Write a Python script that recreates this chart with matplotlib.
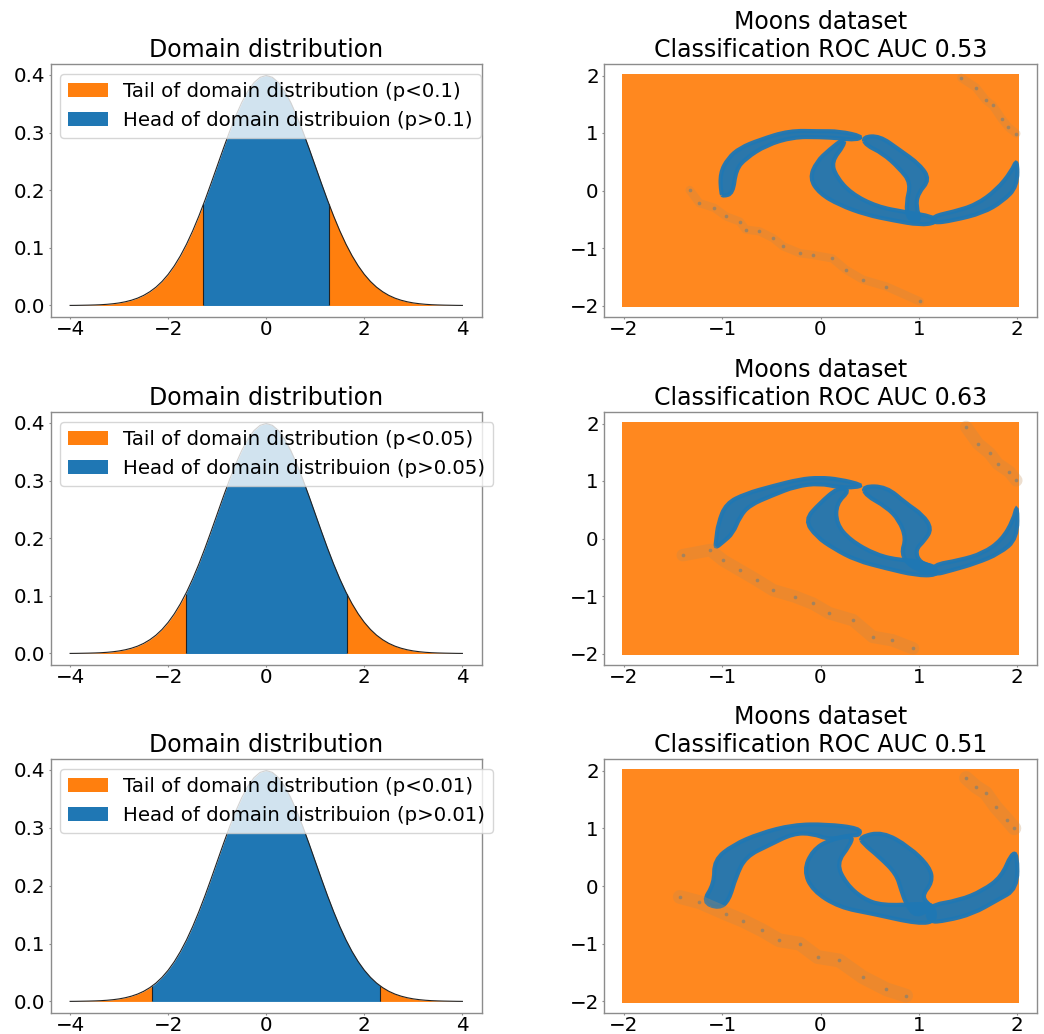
import numpy as np
import matplotlib
matplotlib.use("Agg")
import matplotlib.pyplot as plt
from matplotlib.path import Path
from matplotlib.patches import PathPatch

W, H = 1044, 1034

# Standard-normal-looking curve (positive half, mirrored)
pdf_x_half = [0, .125, .25, .375, .5, .625, .75, .875, 1, 1.125, 1.25, 1.375, 1.5, 1.625, 1.75, 1.875,
              2, 2.125, 2.25, 2.375, 2.5, 2.625, 2.75, 2.875, 3, 3.125, 3.25, 3.375, 3.5, 3.625, 3.75, 3.875, 4]
pdf_y_half = [.3989, .3958, .3867, .3719, .3521, .3282, .3011, .2721, .2420, .2119, .1826, .1550, .1295, .1065,
              .0863, .0688, .0540, .0417, .0317, .0238, .0175, .0127, .0091, .0064, .0044, .0030, .0020, .0013,
              .0009, .0006, .0004, .0002, .0001]

p_labels = ["0.1", "0.05", "0.01"]
cut_x = [1.28, 1.64, 2.33]
cut_y = [.1755, .1031, .0264]
auc_labels = ["0.53", "0.63", "0.51"]

# Extent of the orange class in the right panels
orange_x = [-2.02, 2.02]
orange_y = [-2.02, 2.02]

# Blue class regions per panel: (x, y) outlines
arc_top = [
    [(-1.01, -.05), (-1.02, .30), (-.94, .56), (-.82, .74), (-.62, .88), (-.32, 1.04), (-.01, 1.03), (.19, 1.03), (.43, .94),
     (.36, .88), (.19, .91), (-.01, .93), (-.28, .93), (-.55, .79), (-.76, .56), (-.86, .36), (-.89, -.05), (-.99, -.10)],
    [(-1.06, -.03), (-1.04, .26), (-.96, .61), (-.76, .78), (-.49, .91), (-.21, 1.03), (-.01, 1.06), (.19, 1.03), (.43, .93),
     (.36, .89), (.19, .89), (-.01, .96), (-.25, .91), (-.49, .75), (-.72, .58), (-.82, .38), (-.89, .09), (-.99, -.06), (-1.07, -.17)],
    [(-1.20, -.28), (-1.08, .04), (-1.08, .45), (-.89, .71), (-.62, .91), (-.28, 1.06), (.06, 1.07), (.40, 1.0),
     (.40, .88), (.30, .88), (.09, .80), (-.08, .91), (-.28, .91), (-.52, .71), (-.76, .51), (-.86, .16), (-.93, -.25), (-1.03, -.39)],
]
ring_left = [
    [(.24, .91), (.09, .71), (-.04, .50), (-.11, .21), (-.01, -.05), (.19, -.25), (.46, -.42), (.74, -.52), (1.01, -.60), (1.18, -.56),
     (1.14, -.45), (.87, -.38), (.57, -.28), (.31, -.05), (.16, .24), (.11, .50), (.24, .79)],
    [(.18, .89), (-.01, .61), (-.16, .32), (-.04, .03), (.13, -.17), (.36, -.38), (.67, -.52), (.97, -.64), (1.18, -.64),
     (1.18, -.52), (.97, -.38), (.82, -.38), (.57, -.29), (.30, -.03), (.16, .26), (.16, .61), (.30, .84)],
    [(.09, .80), (-.08, .62), (-.17, .27), (-.08, -.08), (.19, -.37), (.53, -.48), (1.0, -.66), (1.18, -.60),
     (1.14, -.31), (1.01, -.31), (.63, -.34), (.43, -.22), (.26, .04), (.16, .39), (.30, .71), (.33, .88)],
]
ring_right = [
    [(.43, .93), (.60, .95), (.80, .71), (1.01, .45), (1.11, .19), (.99, -.05), (.97, -.28), (1.02, -.54),
     (.89, -.51), (.87, -.22), (.92, .13), (.80, .39), (.63, .65), (.46, .79)],
    [(.43, .91), (.67, .90), (.87, .61), (1.04, .41), (1.13, .17), (1.06, -.03), (.96, -.20), (1.01, -.43), (1.18, -.49),
     (1.14, -.64), (.91, -.49), (.82, -.26), (.87, 0), (.80, .32), (.67, .55), (.46, .75)],
    [(.40, .85), (.63, .94), (.90, .68), (1.11, .33), (1.14, .07), (1.02, -.19), (1.14, -.37), (.97, -.54),
     (.87, -.31), (.82, -.07), (.77, .21), (.60, .50), (.43, .74)],
]
arc_right = [
    [(1.14, -.45), (1.35, -.37), (1.58, -.25), (1.79, .01), (1.94, .33), (2.0, .56), (2.0, .07), (1.85, -.19), (1.65, -.39), (1.35, -.52), (1.14, -.57)],
    [(1.14, -.46), (1.41, -.38), (1.65, -.26), (1.84, -.03), (1.96, .32), (2.0, .61), (2.0, 0), (1.82, -.26), (1.58, -.43), (1.34, -.55), (1.14, -.64)],
    [(1.09, -.34), (1.41, -.25), (1.65, -.08), (1.84, .16), (1.94, .56), (2.0, .56), (2.0, -.05), (1.79, -.25), (1.55, -.48), (1.28, -.60), (1.09, -.63)],
]
# Faint blue traces at the two moon ends
tail_low = [
    [(-1.33, .01), (-1.23, -.22), (-1.08, -.30), (-.96, -.45), (-.82, -.54), (-.76, -.68), (-.62, -.71),
     (-.48, -.83), (-.38, -.97), (-.21, -1.09), (-.08, -1.12), (.12, -1.18), (.26, -1.38), (.43, -1.55), (.67, -1.67), (1.01, -1.93)],
    [(-1.40, -.29), (-1.12, -.20), (-.99, -.38), (-.82, -.55), (-.65, -.72), (-.48, -.90), (-.26, -1.01),
     (-.08, -1.13), (.09, -1.30), (.33, -1.42), (.53, -1.71), (.73, -1.77), (.94, -1.91)],
    [(-1.43, -.19), (-1.23, -.28), (-.96, -.48), (-.79, -.60), (-.59, -.77), (-.42, -.94), (-.21, -1.0),
     (-.03, -1.23), (.19, -1.29), (.43, -1.58), (.67, -1.79), (.87, -1.90)],
]
tail_high = [
    [(1.43, 1.96), (1.58, 1.79), (1.68, 1.57), (1.75, 1.48), (1.84, 1.25), (1.91, 1.10), (1.99, .99)],
    [(1.48, 1.94), (1.60, 1.65), (1.72, 1.48), (1.80, 1.30), (1.92, 1.16), (1.99, 1.01)],
    [(1.48, 1.87), (1.58, 1.72), (1.68, 1.61), (1.78, 1.37), (1.90, 1.14), (1.97, 1.0)],
]
tail_width = [6, 9, 10]

ORANGE, BLUE, GREY = "#ff7f0e", "#1f77b4", "#8c8c8c"
FS = 14.3
FS_LEG = 14.2
FS_TITLE = 17
rows_px = [(64, 317), (412, 665), (759, 1013)]
left_px, right_px = (50.5, 482), (604, 1037)


def make_axes(xr, yr):
    ax = fig.add_axes([xr[0] / W, 1 - yr[1] / H, (xr[1] - xr[0]) / W, (yr[1] - yr[0]) / H])
    for s in ax.spines.values():
        s.set_color(GREY)
        s.set_linewidth(1.0)
    ax.tick_params(labelsize=FS, color=GREY, length=1.5, width=0.8, pad=2.2)
    ax.tick_params(axis="x", pad=1.0)
    return ax


def smooth_patch(outline):
    # the outline's vertices act as control points of a closed quadratic curve
    a = np.array(outline)
    mids = (a + np.roll(a, -1, axis=0)) / 2
    verts = [mids[-1]]
    codes = [Path.MOVETO]
    for v, m in zip(a, mids):
        verts += [v, m]
        codes += [Path.CURVE3, Path.CURVE3]
    return PathPatch(Path(verts, codes), facecolor=BLUE, edgecolor=BLUE, alpha=0.95, lw=3.0)


fig = plt.figure(figsize=(W / 100, H / 100), dpi=100)
xh, yh = np.array(pdf_x_half), np.array(pdf_y_half)
px = np.r_[-xh[:0:-1], xh]
py = np.r_[yh[:0:-1], yh]

for i, yr in enumerate(rows_px):
    ax = make_axes(left_px, yr)
    c, h = cut_x[i], cut_y[i]
    lx = np.r_[px[px < -c], -c]
    ly = np.r_[py[px < -c], h]
    mx = np.r_[-c, px[np.abs(px) < c], c]
    my = np.r_[h, py[np.abs(px) < c], h]
    rx = np.r_[c, px[px > c]]
    ry = np.r_[h, py[px > c]]
    ax.fill_between(lx, ly, color=ORANGE, lw=0, label=f"Tail of domain distribution (p<{p_labels[i]})")
    ax.fill_between(rx, ry, color=ORANGE, lw=0)
    ax.fill_between(mx, my, color=BLUE, lw=0, label=f"Head of domain distribuion (p>{p_labels[i]})")
    ax.plot(px, py, color="#222222", lw=0.8)
    ax.vlines([-c, c], 0, h, color="#222222", lw=0.8)
    ax.set_xlim(-4.4, 4.4)
    ax.set_ylim(-0.02, 0.4189)
    ax.set_xticks([-4, -2, 0, 2, 4])
    ax.set_yticks([0, .1, .2, .3, .4])
    ax.set_title("Domain distribution", fontsize=FS_TITLE, pad=5)
    ax.legend(loc="upper left", fontsize=FS_LEG, framealpha=0.8, borderaxespad=0.5, handlelength=2)

    ax = make_axes(right_px, yr)
    ax.fill_between(orange_x, orange_y[0], orange_y[1], color=ORANGE, alpha=0.93, lw=0)
    for trace in (tail_low[i], tail_high[i]):
        t = np.array(trace)
        ax.plot(t[:, 0], t[:, 1], color="#c08a50", lw=tail_width[i], alpha=0.28, solid_capstyle="round")
        ax.scatter(t[:, 0], t[:, 1], s=7, color=BLUE, alpha=0.45, lw=0)
    for poly in (arc_top[i], ring_left[i], ring_right[i], arc_right[i]):
        ax.add_patch(smooth_patch(poly))
    ax.set_xlim(-2.2, 2.2)
    ax.set_ylim(-2.2, 2.2)
    ax.set_xticks([-2, -1, 0, 1, 2])
    ax.set_yticks([-2, -1, 0, 1, 2])
    ax.set_title(f"Moons dataset\nClassification ROC AUC {auc_labels[i]}", fontsize=FS_TITLE, pad=5, linespacing=1.2)

fig.savefig("out.png", dpi=100)
